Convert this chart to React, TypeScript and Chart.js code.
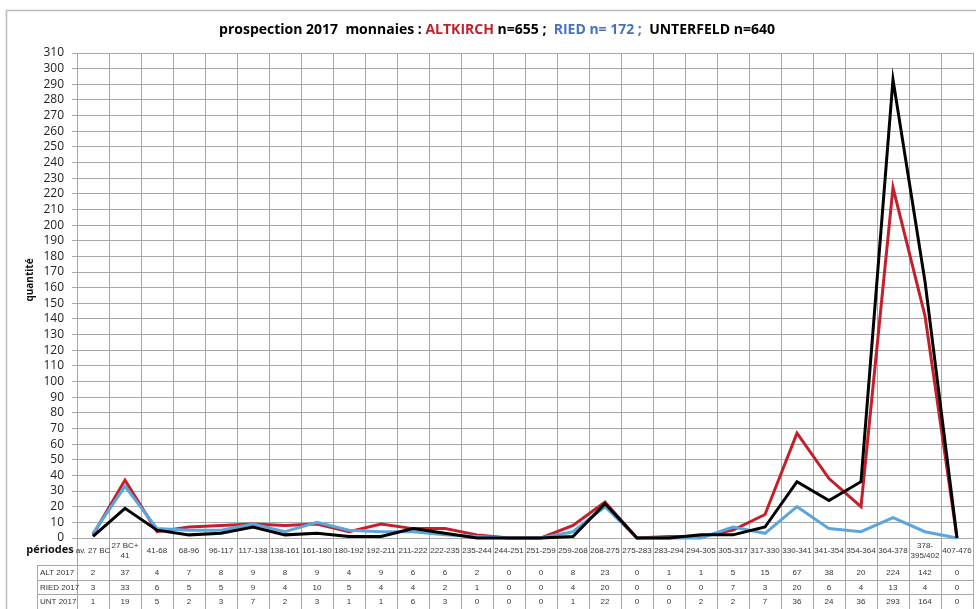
import React, { useEffect, useRef } from 'react';
import { Chart, registerables } from 'chart.js';

Chart.register(...registerables);

const periods = [
  'av. 27 BC', '27 BC+\n41', '41-68', '68-96', '96-117', '117-138', '138-161', '161-180',
  '180-192', '192-211', '211-222', '222-235', '235-244', '244-251', '251-259', '259-268',
  '268-275', '275-283', '283-294', '294-305', '305-317', '317-330', '330-341', '341-354',
  '354-364', '364-378', '378-\n395/402', '407-476',
];
const altkirch = [2, 37, 4, 7, 8, 9, 8, 9, 4, 9, 6, 6, 2, 0, 0, 8, 23, 0, 1, 1, 5, 15, 67, 38, 20, 224, 142, 0];
const ried = [3, 33, 6, 5, 5, 9, 4, 10, 5, 4, 4, 2, 1, 0, 0, 4, 20, 0, 0, 0, 7, 3, 20, 6, 4, 13, 4, 0];
const unterfeld = [1, 19, 5, 2, 3, 7, 2, 3, 1, 1, 6, 3, 0, 0, 0, 1, 22, 0, 0, 2, 2, 7, 36, 24, 36, 293, 164, 0];
const rowLabels = ['ALT 2017', 'RIED 2017', 'UNT 2017'];
const yMin = 0;
const yMax = 310;
const yStep = 10;

const RED = '#c4202b';
const BLUE = '#5ca6de';
const BLACK = '#000000';
const GRID = '#a8a8a8';
const W = 976;
const H = 609;
const SMALL_FONT = '"Liberation Sans", Arial, sans-serif';

const extrasPlugin = {
  id: 'extras',
  beforeDraw(chart: any) {
    const ctx = chart.ctx;
    ctx.save();
    ctx.fillStyle = '#ffffff';
    ctx.fillRect(0, 0, W, H);
    ctx.strokeStyle = '#bdbdbd';
    ctx.lineWidth = 1.5;
    ctx.strokeRect(6.5, 10.5, W + 10, H + 10);
    ctx.restore();
  },
  afterDraw(chart: any) {
    const ctx = chart.ctx;
    const xs = chart.scales.x;
    const area = chart.chartArea;
    const n = periods.length;
    const cw = (area.right - area.left) / n;
    ctx.save();
    // title
    const segs: [string, string][] = [
      ['prospection 2017  monnaies : ', BLACK],
      ['ALTKIRCH', RED],
      [' n=655 ;  ', BLACK],
      ['RIED n= 172 ;', '#4472c4'],
      ['  UNTERFELD n=640', BLACK],
    ];
    ctx.font = 'bold 14px "Open Sans"';
    ctx.textBaseline = 'middle';
    ctx.textAlign = 'left';
    let total = 0;
    segs.forEach(([t]) => (total += ctx.measureText(t).width));
    let x = 497 - total / 2;
    segs.forEach(([t, c]) => {
      ctx.fillStyle = c;
      ctx.fillText(t, x, 30);
      x += ctx.measureText(t).width;
    });
    // y title
    ctx.save();
    ctx.translate(30, 280);
    ctx.rotate(-Math.PI / 2);
    ctx.font = 'bold 10px "Open Sans"';
    ctx.textAlign = 'center';
    ctx.fillStyle = '#111';
    ctx.fillText('quantité', 0, 0);
    ctx.restore();
    // periodes label
    ctx.font = 'bold 11px "Open Sans"';
    ctx.textAlign = 'center';
    ctx.fillStyle = '#111';
    ctx.fillText('périodes', 50, 550);
    // data table
    const top = area.bottom + 27;
    const rh = (H - top) / 3;
    const labelLeft = 37;
    ctx.strokeStyle = GRID;
    ctx.lineWidth = 1;
    for (let r = 0; r <= 3; r++) {
      const y = Math.round(top + r * rh) + 0.5;
      ctx.beginPath();
      ctx.moveTo(labelLeft, y);
      ctx.lineTo(area.right, y);
      ctx.stroke();
    }
    ctx.beginPath();
    ctx.moveTo(labelLeft + 0.5, top);
    ctx.lineTo(labelLeft + 0.5, H);
    for (let i = 0; i <= n; i++) {
      const bx = Math.round(area.left + i * cw) + 0.5;
      ctx.moveTo(bx, top);
      ctx.lineTo(bx, H);
    }
    ctx.stroke();
    const rows = [altkirch, ried, unterfeld];
    ctx.font = '8px ' + SMALL_FONT;
    ctx.fillStyle = '#333';
    rows.forEach((vals, r) => {
      const cy = top + r * rh + rh / 2 + 0.5;
      ctx.textAlign = 'left';
      ctx.fillText(rowLabels[r], labelLeft + 3, cy);
      ctx.textAlign = 'center';
      vals.forEach((v, i) => {
        ctx.fillText(String(v), xs.getPixelForValue(i), cy);
      });
    });
    ctx.restore();
  },
};

export default function App() {
  const ref = useRef<HTMLCanvasElement | null>(null);
  useEffect(() => {
    if (!ref.current) return;
    const chart = new Chart(ref.current, {
      type: 'line',
      data: {
        labels: periods.map((p) => p.split('\n')),
        datasets: [
          { label: 'ALT 2017', data: altkirch, borderColor: RED, order: 3 },
          { label: 'RIED 2017', data: ried, borderColor: BLUE, order: 2 },
          { label: 'UNT 2017', data: unterfeld, borderColor: BLACK, order: 1 },
        ].map((d) => ({
          ...d,
          backgroundColor: d.borderColor,
          borderWidth: 3,
          pointRadius: 0,
          tension: 0,
          fill: false,
          clip: false as any,
        })),
      },
      options: {
        animation: false,
        responsive: false,
        devicePixelRatio: 1,
        layout: { padding: { left: 0, top: 53, right: 3, bottom: 0 } },
        plugins: { legend: { display: false }, tooltip: { enabled: false }, title: { display: false } },
        scales: {
          x: {
            offset: true,
            grid: { offset: true, color: GRID, tickLength: 27, tickColor: GRID, lineWidth: 1 },
            border: { color: GRID },
            ticks: {
              autoSkip: false,
              maxRotation: 0,
              minRotation: 0,
              padding: -19,
              crossAlign: 'center',
              font: { family: SMALL_FONT, size: 8 },
              color: '#333',
            },
            afterFit: (s: any) => {
              s.height = 71;
            },
          },
          y: {
            min: yMin,
            max: yMax,
            grid: { color: GRID, tickLength: 5, tickColor: GRID },
            border: { color: GRID },
            ticks: {
              stepSize: yStep,
              autoSkip: false,
              padding: 8,
              font: { family: 'Open Sans', size: 12 },
              color: '#222',
            },
            afterFit: (s: any) => {
              s.width = 77;
            },
          },
        },
      },
      plugins: [extrasPlugin],
    });
    return () => chart.destroy();
  }, []);
  return (
    <div style={{ position: 'fixed', left: 0, top: 0, width: W, height: H, background: '#fff' }}>
      <canvas ref={ref} width={W} height={H} style={{ display: 'block' }} />
    </div>
  );
}
